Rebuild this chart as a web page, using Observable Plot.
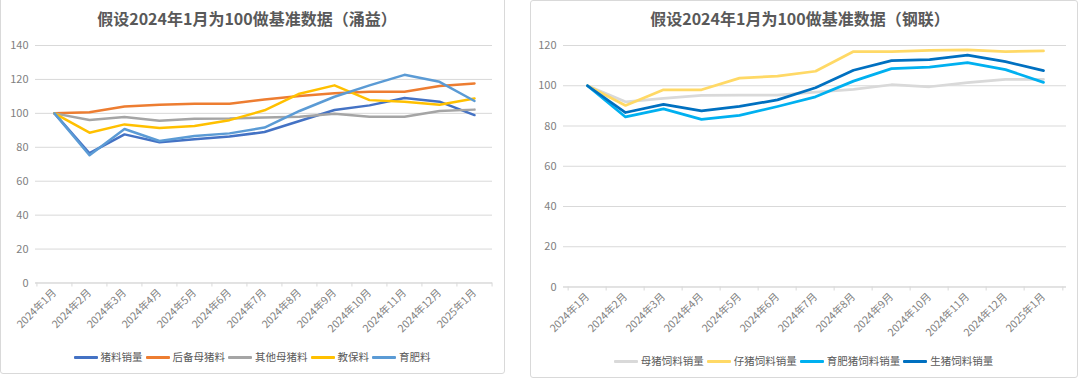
<!DOCTYPE html>
<html>
<head>
<meta charset="utf-8">
<script src="https://cdn.jsdelivr.net/npm/d3@7"></script>
<script src="https://cdn.jsdelivr.net/npm/@observablehq/plot@0.6"></script>
<style>
  html, body { margin: 0; padding: 0; background: #fff; }
  body { width: 1080px; height: 378px; position: relative; overflow: hidden;
         font-family: "Noto Sans CJK SC", "Noto Sans", sans-serif; }
  .panel { position: absolute; box-sizing: border-box; border: 1px solid #D9D9D9; border-radius: 3px; background: #fff; }
  .title { position: absolute; text-align: center; font-size: 16px; font-weight: bold; color: #595959; line-height: 20px; }
  .chart { position: absolute; }
  .legend { position: absolute; display: flex; justify-content: center; align-items: center;
            font-size: 10.5px; color: #595959; line-height: 14px; }
  .legend .item { display: flex; align-items: center; margin: 0 1.5px; }
  .legend .sw { width: 24px; height: 3px; margin-right: 3px; border-radius: 1px; }
</style>
</head>
<body>
<div class="panel" style="left:0px; top:-6px; width:505px; height:380px;"></div>
<div class="panel" style="left:530px; top:0px; width:548px; height:378px;"></div>
<div class="title" style="left:0px; top:8px; width:494px;">假设2024年1月为100做基准数据（涌益）</div>
<div class="title" style="left:530px; top:8px; width:540px;">假设2024年1月为100做基准数据（钢联）</div>
<div id="c1" class="chart" style="left:0px; top:30px;"></div>
<div id="c2" class="chart" style="left:530px; top:30px;"></div>
<div id="l1" class="legend" style="left:0px; top:350px; width:504px;"></div>
<div id="l2" class="legend" style="left:530px; top:354px; width:547px;"></div>
<script>
// ---- categories ----
const months = ["2024年1月","2024年2月","2024年3月","2024年4月","2024年5月","2024年6月","2024年7月",
                "2024年8月","2024年9月","2024年10月","2024年11月","2024年12月","2025年1月"];

// ---- 涌益 (left) ----
const yySeries = ["猪料销量","后备母猪料","其他母猪料","教保料","育肥料"];
const yyColors = ["#4472C4","#ED7D31","#A5A5A5","#FFC000","#5B9BD5"];
const yyZhuliao   = [100, 76.5, 87.6, 83.0, 84.7, 86.3, 89.0, 95.5, 102.0, 104.7, 109.0, 106.9, 99.0];
const yyHoubei    = [100, 100.6, 104.1, 105.1, 105.7, 105.7, 108.2, 110.2, 111.8, 112.7, 112.8, 116.1, 117.6];
const yyQita      = [100, 96.1, 97.8, 95.7, 96.8, 96.9, 97.6, 98.0, 99.8, 98.0, 98.0, 101.4, 102.2];
const yyJiaobao   = [100, 88.6, 93.5, 91.4, 92.5, 96.0, 101.8, 111.6, 116.5, 107.8, 106.9, 105.1, 108.8];
const yyYufei     = [100, 75.3, 90.8, 83.7, 86.7, 88.2, 91.6, 101.4, 109.8, 116.5, 122.7, 118.6, 107.3];
const yyValues = [yyZhuliao, yyHoubei, yyQita, yyJiaobao, yyYufei];
const yyTicks = [0, 20, 40, 60, 80, 100, 120, 140];

// ---- 钢联 (right) ----
const glSeries = ["母猪饲料销量","仔猪饲料销量","育肥猪饲料销量","生猪饲料销量"];
const glColors = ["#D9D9D9","#FFD966","#00B0F0","#0070C0"];
const glMuzhu   = [100, 92.0, 93.7, 95.2, 95.3, 95.3, 96.8, 98.2, 100.5, 99.5, 101.5, 103.2, 103.2];
const glZizhu   = [100, 90.2, 98.0, 98.0, 103.8, 104.8, 107.2, 117.0, 117.0, 117.6, 117.8, 117.0, 117.3];
const glYufei   = [100, 84.5, 88.5, 83.3, 85.3, 89.7, 94.5, 102.3, 108.5, 109.3, 111.5, 108.0, 101.7];
const glShengzhu= [100, 86.7, 90.7, 87.5, 89.7, 93.0, 99.0, 107.7, 112.5, 113.0, 115.2, 112.0, 107.5];
const glValues = [glMuzhu, glZizhu, glYufei, glShengzhu];
const glTicks = [0, 20, 40, 60, 80, 100, 120];

function toRows(series, values) {
  const rows = [];
  series.forEach((s, i) => values[i].forEach((v, j) => rows.push({series: s, month: months[j], value: v})));
  return rows;
}

function makeChart(opts) {
  const {series, colors, values, ticks, width, height, ml, mr, mt, mb, sw} = opts;
  const rows = toRows(series, values);
  const step = (width - ml - mr) / months.length;
  const grid = "#D9D9D9";
  const font = "Noto Sans CJK SC, sans-serif";
  return Plot.plot({
    width, height, marginLeft: ml, marginRight: mr, marginTop: mt, marginBottom: mb,
    style: {fontFamily: font, background: "transparent", overflow: "visible"},
    x: {type: "point", domain: months, padding: 0.5, label: null},
    y: {domain: [0, d3.max(ticks)], label: null},
    color: {domain: series, range: colors},
    marks: [
      Plot.gridY(ticks, {stroke: grid, strokeOpacity: 1, strokeWidth: 1}),
      Plot.axisY(ticks, {tickSize: 0, tickPadding: 7, fontSize: 11, fill: "#7F7F7F", label: null}),
      Plot.axisX(months, {tickSize: 0, tickPadding: 8, tickRotate: -45, fontSize: 10.5, fill: "#7F7F7F", label: null}),
      Plot.axisX(months, {tickSize: 4, tickFormat: () => "", stroke: grid, strokeOpacity: 1, dx: -step / 2, label: null}),
      Plot.axisX(months.slice(-1), {tickSize: 4, tickFormat: () => "", stroke: grid, strokeOpacity: 1, dx: step / 2, label: null}),
      Plot.ruleY([0], {stroke: grid, strokeWidth: 1}),
      Plot.lineY(rows, {x: "month", y: "value", z: "series", stroke: "series", strokeWidth: sw,
                        strokeLinejoin: "round", strokeLinecap: "round"})
    ]
  });
}

function makeLegend(el, series, colors) {
  series.forEach((s, i) => {
    const item = document.createElement("div");
    item.className = "item";
    const sw = document.createElement("span");
    sw.className = "sw";
    sw.style.background = colors[i];
    const t = document.createElement("span");
    t.textContent = s;
    item.appendChild(sw); item.appendChild(t);
    el.appendChild(item);
  });
}

document.getElementById("c1").appendChild(makeChart({
  series: yySeries, colors: yyColors, values: yyValues, ticks: yyTicks,
  width: 504, height: 310, ml: 35, mr: 12, mt: 15, mb: 57.5, sw: 2.5
}));
document.getElementById("c2").appendChild(makeChart({
  series: glSeries, colors: glColors, values: glValues, ticks: glTicks,
  width: 547, height: 315, ml: 33, mr: 11, mt: 15, mb: 58.5, sw: 2.75
}));
makeLegend(document.getElementById("l1"), yySeries, yyColors);
makeLegend(document.getElementById("l2"), glSeries, glColors);
</script>
</body>
</html>
